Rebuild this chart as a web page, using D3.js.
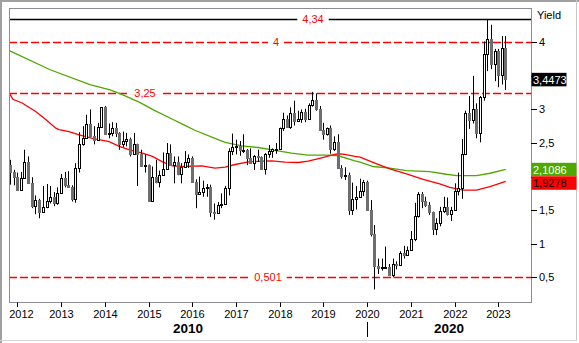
<!DOCTYPE html>
<html><head><meta charset="utf-8">
<script src="https://cdn.jsdelivr.net/npm/d3@7/dist/d3.min.js"></script>
<style>
body{margin:0;background:#fff;}
svg text{font-family:"Liberation Sans",Arial,sans-serif;}
</style></head>
<body><svg id="c" width="579" height="343"></svg>
<script>
// ---------- DATA ----------
const firstMonth = [2011, 10]; // Nov 2011 (month index 0-based)
const lastMonth = [2023, 2];   // Mar 2023
const opens = [2.17,2.07,2.00,1.80,1.98,2.21,1.91,1.56,1.65,1.47,1.55,1.63,1.69,1.61,
 1.76,1.98,1.88,1.85,1.67,2.13,2.49,2.58,2.78,2.61,2.55,2.74,
 3.03,2.64,2.65,2.72,2.65,2.48,2.53,2.56,2.34,2.49,2.34,2.16,
 2.17,1.64,2.00,1.92,2.03,2.12,2.35,2.18,2.22,2.04,2.14,2.21,
 2.27,1.92,1.74,1.77,1.83,1.85,1.47,1.46,1.58,1.59,1.83,2.38,
 2.44,2.45,2.39,2.39,2.28,2.20,2.30,2.29,2.12,2.33,2.38,2.41,
 2.41,2.72,2.86,2.74,2.95,2.83,2.86,2.96,2.86,3.06,3.14,3.01,
 2.69,2.63,2.72,2.41,2.51,2.13,2.01,2.02,1.50,1.67,1.69,1.78,
 1.92,1.51,1.15,0.67,0.64,0.65,0.66,0.53,0.70,0.68,0.87,0.84,
 0.91,1.07,1.41,1.74,1.63,1.58,1.47,1.22,1.31,1.49,1.55,1.44,
 1.51,1.78,1.83,2.34,2.94,2.84,3.01,2.65,3.19,3.83,4.05,3.68,
 3.87,3.51,3.92];
const highs = [2.25,2.10,2.06,2.07,2.40,2.30,1.99,1.72,1.67,1.86,1.89,1.86,1.77,1.84,
 2.04,2.07,2.08,1.87,2.20,2.66,2.75,2.92,3.00,2.75,2.80,3.03,
 3.05,2.79,2.81,2.80,2.66,2.67,2.65,2.58,2.65,2.49,2.40,2.33,
 2.18,2.15,2.25,2.09,2.36,2.50,2.48,2.30,2.30,2.20,2.38,2.33,
 2.30,1.96,2.00,1.94,1.89,1.88,1.60,1.62,1.75,1.86,2.42,2.64,
 2.55,2.53,2.63,2.41,2.42,2.32,2.40,2.30,2.35,2.47,2.42,2.50,
 2.73,2.95,2.91,3.03,3.13,2.98,3.00,3.01,3.09,3.26,3.24,3.05,
 2.80,2.73,2.76,2.60,2.63,2.17,2.14,2.06,1.91,1.86,1.97,1.95,
 1.94,1.65,1.28,0.78,0.78,0.96,0.70,0.78,0.74,0.89,0.97,0.96,
 1.19,1.61,1.77,1.77,1.70,1.62,1.48,1.38,1.55,1.70,1.69,1.55,
 1.90,2.06,2.56,2.98,3.20,3.50,3.09,3.20,4.01,4.34,4.26,3.90,
 3.90,4.09,4.09];
const lows = [1.88,1.87,1.79,1.79,1.97,1.90,1.53,1.44,1.38,1.46,1.53,1.60,1.56,1.58,
 1.76,1.84,1.84,1.63,1.61,2.06,2.46,2.56,2.61,2.48,2.54,2.74,
 2.63,2.57,2.60,2.59,2.40,2.44,2.45,2.30,2.33,1.86,2.15,2.06,
 1.63,1.64,1.90,1.84,2.02,2.10,2.18,1.90,2.02,1.90,2.14,2.13,
 1.92,1.53,1.73,1.70,1.70,1.40,1.36,1.45,1.53,1.59,1.72,2.32,
 2.33,2.31,2.35,2.17,2.19,2.10,2.22,2.10,2.03,2.28,2.28,2.34,
 2.40,2.68,2.73,2.71,2.76,2.82,2.80,2.81,2.85,3.04,2.98,2.69,
 2.55,2.61,2.34,2.38,2.12,1.97,1.95,1.43,1.43,1.51,1.69,1.71,
 1.50,1.11,0.32,0.55,0.60,0.63,0.52,0.50,0.62,0.67,0.78,0.83,
 0.91,1.04,1.39,1.53,1.55,1.43,1.13,1.13,1.26,1.46,1.42,1.34,
 1.49,1.72,1.67,2.33,2.71,2.79,2.57,2.51,3.13,3.57,3.60,3.42,
 3.33,3.37,3.29];
const closes = [2.07,2.00,1.80,1.98,2.21,1.91,1.56,1.65,1.47,1.55,1.63,1.69,1.61,1.76,
 1.98,1.88,1.85,1.67,2.13,2.49,2.58,2.78,2.61,2.55,2.74,3.03,
 2.64,2.65,2.72,2.65,2.48,2.53,2.56,2.34,2.49,2.34,2.16,2.17,
 1.64,2.00,1.92,2.03,2.12,2.35,2.18,2.22,2.04,2.14,2.21,2.27,
 1.92,1.74,1.77,1.83,1.85,1.47,1.46,1.58,1.59,1.83,2.38,2.44,
 2.45,2.39,2.39,2.28,2.20,2.30,2.29,2.12,2.33,2.38,2.41,2.41,
 2.72,2.86,2.74,2.95,2.83,2.86,2.96,2.86,3.06,3.14,3.01,2.69,
 2.63,2.72,2.41,2.51,2.13,2.01,2.02,1.50,1.67,1.69,1.78,1.92,
 1.51,1.15,0.67,0.64,0.65,0.66,0.53,0.70,0.68,0.87,0.84,0.91,
 1.07,1.41,1.74,1.63,1.58,1.47,1.22,1.31,1.49,1.55,1.44,1.51,
 1.78,1.83,2.34,2.94,2.84,3.01,2.65,3.19,3.83,4.05,3.68,3.87,
 3.51,3.92,3.4473];
// moving averages read at points: [decimal year, value]
const redMA = [[2011.80,3.26],[2011.90,3.15],[2012.11,3.095],[2012.42,2.97],[2012.65,2.85],[2012.88,2.72],
 [2012.95,2.70],[2013.18,2.67],[2013.41,2.62],[2013.72,2.57],[2014.10,2.52],[2014.33,2.45],
 [2014.55,2.40],[2014.86,2.35],[2015.09,2.30],[2015.32,2.22],[2015.54,2.16],[2015.81,2.15],
 [2016.22,2.16],[2016.52,2.125],[2016.75,2.14],[2016.98,2.18],[2017.28,2.22],[2017.59,2.23],
 [2017.82,2.235],[2018.12,2.215],[2018.43,2.21],[2018.65,2.23],[2018.96,2.28],[2019.19,2.32],
 [2019.34,2.34],[2019.49,2.33],[2019.72,2.30],[2019.84,2.29],[2020.22,2.19],[2020.52,2.115],
 [2020.90,2.04],[2021.28,1.96],[2021.66,1.89],[2021.89,1.84],[2022.19,1.80],[2022.50,1.80],
 [2022.81,1.85],[2023.17,1.9278]];
const greenMA = [[2011.80,3.88],[2012.75,3.59],[2013.66,3.37],[2014.12,3.29],[2014.40,3.22],
 [2014.81,3.10],[2015.09,3.00],[2015.56,2.85],[2015.81,2.77],[2016.06,2.69],[2016.52,2.57],
 [2016.75,2.51],[2017.13,2.458],[2017.51,2.433],[2017.89,2.39],[2018.27,2.35],[2018.65,2.32],
 [2019.11,2.32],[2019.34,2.31],[2019.72,2.234],[2019.84,2.215],[2020.14,2.15],[2020.52,2.125],
 [2020.90,2.09],[2021.43,2.075],[2021.81,2.035],[2022.05,2.015],[2022.50,2.015],[2022.81,2.05],
 [2023.17,2.1086]];
const yTicks = [0.5,1,1.5,2,2.5,3,3.5,4];
const yTickLabels = ["0,5","1","1,5","2","2,5","3","3,5","4"];
const years = [2012,2013,2014,2015,2016,2017,2018,2019,2020,2021,2022,2023];
const decades = [{label:"2010", from:2011.8, to:2020}, {label:"2020", from:2020, to:2023.75}];
const levels = [
 {v:4.34, label:"4,34", dashed:false, lx:313},
 {v:4, label:"4", dashed:true, lx:276},
 {v:3.25, label:"3,25", dashed:true, lx:145},
 {v:0.501, label:"0,501", dashed:true, lx:268}];
const lastValues = [
 {v:3.4473, label:"3,4473", bg:"#000", fg:"#fff", w:35},
 {v:2.1086, label:"2,1086", bg:"#4ea800", fg:"#fff", w:45},
 {v:1.9278, label:"1,9278", bg:"#ff0000", fg:"#000", w:45}];

// ---------- CHART ----------
const svg = d3.select("#c");
const L = 9, T = 8, R = 531, B = 302;
const x = d3.scaleTime().domain([new Date(2012,0,1), new Date(2023,0,1)]).range([17.3, 498.3]);
const y = d3.scaleLinear().domain([0.5, 4]).range([277.4, 42.2]);
const dec = t => { const yr = Math.floor(t); const a = new Date(yr,0,1), b = new Date(yr+1,0,1); return new Date(+a + (t-yr)*(b-a)); };

// outer frame
svg.append("rect").attr("x",0).attr("y",0).attr("width",579).attr("height",343).attr("fill","#fff");
svg.append("rect").attr("x",0).attr("y",0).attr("width",579).attr("height",2).attr("fill","#a0a0a0");
svg.append("rect").attr("x",0).attr("y",0).attr("width",2).attr("height",343).attr("fill","#a0a0a0");
svg.append("rect").attr("x",576).attr("y",0).attr("width",1).attr("height",341).attr("fill","#c8c8c8");
svg.append("rect").attr("x",0).attr("y",340).attr("width",577).attr("height",1).attr("fill","#d4d4d4");

svg.append("defs").append("clipPath").attr("id","clip").append("rect")
 .attr("x",L+0.5).attr("y",T+0.5).attr("width",R-L-0.5).attr("height",B-T-0.5);

const plot = svg.append("g").attr("clip-path","url(#clip)");

// level lines
levels.forEach(l => {
  const yy = Math.round(y(l.v)) + 0.5;
  plot.append("line").attr("x1",L).attr("x2",R).attr("y1",yy).attr("y2",yy)
   .attr("stroke", l.dashed ? "#ff0000" : "#000").attr("stroke-width", l.dashed ? 1.6 : 1.3)
   .attr("stroke-dasharray", l.dashed ? "8,3" : null);
});

// moving averages
const line = d3.line().x(d => x(dec(d[0]))).y(d => y(d[1]));
plot.append("path").attr("d", line(greenMA)).attr("fill","none").attr("stroke","#4ea800").attr("stroke-width",1.3);
plot.append("path").attr("d", line(redMA)).attr("fill","none").attr("stroke","#ff0000").attr("stroke-width",1.3);

// candles
const months = d3.timeMonth.range(new Date(firstMonth[0], firstMonth[1], 1), new Date(lastMonth[0], lastMonth[1]+1, 1));
const data = months.map((d,i) => ({d, o:opens[i], h:highs[i], l:lows[i], c:closes[i]}));
const cg = plot.append("g");
data.forEach(k => {
  const cx = Math.round(x(k.d));
  cg.append("line").attr("x1",cx+0.5).attr("x2",cx+0.5).attr("y1",y(k.h)).attr("y2",y(k.l))
    .attr("stroke","#000").attr("stroke-width",1);
  const top = Math.round(y(Math.max(k.o,k.c))), bot = Math.round(y(Math.min(k.o,k.c)));
  if (k.c >= k.o) {
    cg.append("rect").attr("x",cx-0.5).attr("y",top+0.5).attr("width",2).attr("height",Math.max(1,bot-top))
      .attr("fill","#fff").attr("stroke","#000").attr("stroke-width",1);
  } else {
    cg.append("rect").attr("x",cx-1).attr("y",top).attr("width",3).attr("height",Math.max(1,bot-top+1))
      .attr("fill","#6e6e6e");
  }
});

// level labels
levels.forEach(l => {
  const yy = y(l.v);
  const t = svg.append("text").attr("x",l.lx).attr("y",yy+4).attr("text-anchor","middle")
    .attr("font-size",11).attr("fill","#ff0000").text(l.label);
  const bb = t.node().getBBox();
  svg.insert("rect", () => t.node()).attr("x",bb.x-5).attr("y",yy-2).attr("width",bb.width+10).attr("height",4).attr("fill","#fff");
});

// plot frame
svg.append("rect").attr("x",L+0.5).attr("y",T+0.5).attr("width",R-L).attr("height",B-T)
  .attr("fill","none").attr("stroke","#8c8c98").attr("stroke-width",1);

// x axis
years.forEach(yr => {
  const xx = Math.round(x(new Date(yr,0,1))) + 0.5;
  svg.append("line").attr("x1",xx).attr("x2",xx).attr("y1",B+0.5).attr("y2",B+5).attr("stroke","#000");
  svg.append("text").attr("x",Math.max(xx,21.5)).attr("y",317.5).attr("text-anchor","middle")
    .attr("font-size",11).attr("fill","#000").text(yr);
});
decades.forEach(dd => {
  const x0 = Math.max(L, x(dec(dd.from))), x1 = Math.min(R, x(dec(dd.to)));
  svg.append("text").attr("x",(x0+x1)/2).attr("y",332.8).attr("text-anchor","middle")
    .attr("font-size",13.5).attr("font-weight","bold").attr("fill","#000").text(dd.label);
});
const xs = Math.round(x(new Date(2020,0,1))) + 0.5;
svg.append("line").attr("x1",xs).attr("x2",xs).attr("y1",322).attr("y2",337).attr("stroke","#000");

// last value boxes (positions resolved first, so hidden tick labels can be skipped)
let prevBottom = -Infinity;
const boxes = lastValues.map(d => ({...d, cy:y(d.v)})).sort((a,b)=>a.cy-b.cy).map(d => {
  let top = d.cy - 6.5;
  if (top < prevBottom) top = prevBottom;
  prevBottom = top + 13.5;
  return {...d, top, bottom: top + 13.5};
});

// y axis (right); tick labels that sit under a value box are not shown
yTicks.forEach((v,i) => {
  const yy = Math.round(y(v)) + 0.5;
  const hidden = boxes.some(b => y(v) > b.top - 5 && y(v) < b.bottom + 5);
  svg.append("line").attr("x1",R).attr("x2",R+6).attr("y1",yy).attr("y2",yy).attr("stroke","#000");
  if (!hidden)
    svg.append("text").attr("x",539).attr("y",y(v)+4).attr("font-size",11).attr("fill","#000").text(yTickLabels[i]);
});
svg.append("text").attr("x",537).attr("y",19).attr("font-size",11).attr("fill","#000").text("Yield");

boxes.forEach(d => {
  svg.append("rect").attr("x",R+0.5).attr("y",d.top).attr("width",d.w).attr("height",13.5).attr("fill",d.bg);
  svg.append("text").attr("x",533).attr("y",d.top+11).attr("font-size",11).attr("fill",d.fg).text(d.label);
});
</script></body></html>
